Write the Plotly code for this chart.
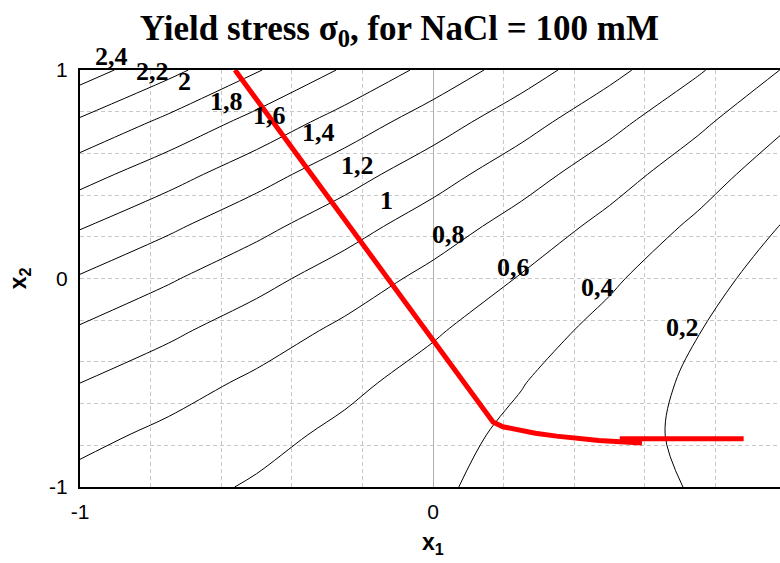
import plotly.graph_objects as go

# ---- data ----
x1_grid = [-1, -0.75, -0.5, -0.25, 0, 0.25, 0.5, 0.75, 1]
x2_grid = [-1, -0.75, -0.5, -0.25, 0, 0.25, 0.5, 0.75, 1]
# yield stress sigma0 on the (x1, x2) grid; one row per x2 value
sigma0 = [
    [0.738, 0.6593, 0.5805, 0.5018, 0.423, 0.3443, 0.2655, 0.1868, 0.108],
    [0.8548, 0.7561, 0.6573, 0.5586, 0.4598, 0.3610, 0.2623, 0.1635, 0.0648],
    [1.0009, 0.8821, 0.7634, 0.6446, 0.5259, 0.4071, 0.2884, 0.1696, 0.0509],
    [1.1763, 1.0376, 0.8988, 0.7601, 0.6213, 0.4826, 0.3438, 0.2051, 0.0663],
    [1.381, 1.2223, 1.0635, 0.9048, 0.746, 0.5873, 0.4285, 0.2698, 0.111],
    [1.615, 1.4363, 1.2575, 1.0788, 0.9, 0.7213, 0.5425, 0.3638, 0.185],
    [1.8784, 1.6797, 1.4809, 1.2822, 1.0834, 0.8847, 0.6859, 0.4872, 0.2884],
    [2.171, 1.9523, 1.7335, 1.5148, 1.296, 1.0773, 0.8585, 0.6398, 0.421],
    [2.493, 2.2543, 2.0155, 1.7768, 1.538, 1.2993, 1.0605, 0.8218, 0.583],
]
levels = [0.2, 0.4, 0.6, 0.8, 1.0, 1.2, 1.4, 1.6, 1.8, 2.0, 2.2, 2.4]
level_labels = ["0,2", "0,4", "0,6", "0,8", "1", "1,2", "1,4", "1,6", "1,8", "2", "2,2", "2,4"]

# red optimum path
path_x1 = [-0.561, 0.17, 0.198, 0.24, 0.29, 0.35, 0.41, 0.47, 0.53, 0.592]
path_x2 = [1.0, -0.688, -0.711, -0.726, -0.742, -0.756, -0.768, -0.777, -0.783, -0.789]
plateau_x1 = [0.529, 0.880]
plateau_x2 = [-0.769, -0.769]

x_ticks = [-1, 0, 1]
y_ticks = [-1, 0, 1]

# ---- layout settings ----
X_RANGE = [-1, 0.983]
Y_RANGE = [-1, 1]
# label centres, in axis units
label_pos = {
    "0,2": (0.708, -0.233), "0,4": (0.465, -0.041), "0,6": (0.227, 0.055),
    "0,8": (0.045, 0.209), "1": (-0.133, 0.376), "1,2": (-0.215, 0.540),
    "1,4": (-0.323, 0.698), "1,6": (-0.462, 0.784), "1,8": (-0.586, 0.851),
    "2": (-0.703, 0.947), "2,2": (-0.796, 0.995), "2,4": (-0.912, 1.067),
}


def to_paper(x, y):
    return ((x - X_RANGE[0]) / (X_RANGE[1] - X_RANGE[0]),
            (y - Y_RANGE[0]) / (Y_RANGE[1] - Y_RANGE[0]))


fig = go.Figure()
fig.add_trace(go.Contour(
    x=x1_grid, y=x2_grid, z=sigma0,
    contours=dict(start=levels[0], end=levels[-1] + 0.01, size=levels[1] - levels[0],
                  coloring="lines", showlabels=False),
    colorscale=[[0, "black"], [1, "black"]],
    showscale=False,
    line=dict(width=1, smoothing=1.0),
    hoverinfo="skip",
))
fig.add_trace(go.Scatter(x=path_x1, y=path_x2, mode="lines",
                         line=dict(color="#ff0000", width=5), hoverinfo="skip"))
fig.add_trace(go.Scatter(x=plateau_x1, y=plateau_x2, mode="lines",
                         line=dict(color="#ff0000", width=5), hoverinfo="skip"))

annotations = []
for lab in level_labels:
    px, py = to_paper(*label_pos[lab])
    annotations.append(dict(x=px, y=py, xref="paper", yref="paper", text="<b>%s</b>" % lab,
                            showarrow=False, xanchor="center", yanchor="middle",
                            font=dict(family="Liberation Serif, Times New Roman, serif",
                                      size=26, color="black")))
annotations.append(dict(x=to_paper(0, 0)[0], y=-0.136, xref="paper", yref="paper",
                        text="<b>x<sub>1</sub></b>",
                        showarrow=False, yanchor="middle",
                        font=dict(family="Liberation Sans, Arial", size=23, color="black")))
annotations.append(dict(x=-0.086, y=0.5, xref="paper", yref="paper", text="<b>x<sub>2</sub></b>",
                        showarrow=False, textangle=-90, xanchor="center", yanchor="middle",
                        font=dict(family="Liberation Sans, Arial", size=23, color="black")))

grid_col = "#c8c8c8"
fig.update_layout(
    width=780, height=563,
    margin=dict(l=80, r=0, t=70, b=76),
    paper_bgcolor="white", plot_bgcolor="white",
    showlegend=False,
    title=dict(text="<b>Yield stress σ<sub>0</sub>, for NaCl = 100 mM</b>",
               font=dict(family="Liberation Serif, Times New Roman, serif", size=35, color="black"),
               x=0.512, xanchor="center", xref="container",
               y=0.951, yanchor="middle", yref="container"),
    annotations=annotations,
    xaxis=dict(range=X_RANGE, tickmode="array", tickvals=x_ticks,
               ticktext=[str(v) for v in x_ticks], ticks="", ticklabelstandoff=5,
               tickfont=dict(family="Liberation Sans, Arial", size=21, color="black"),
               showgrid=True, gridcolor=grid_col, griddash="4px,3px", gridwidth=1,
               zeroline=True, zerolinecolor="#b0b0b0", zerolinewidth=1,
               showline=True, linecolor="black", linewidth=2, mirror=True,
               minor=dict(tick0=-1, dtick=0.2, showgrid=True, gridcolor=grid_col,
                          griddash="4px,3px", gridwidth=1, ticks="")),
    yaxis=dict(range=Y_RANGE, tickmode="array", tickvals=y_ticks,
               ticktext=[str(v) for v in y_ticks], ticks="", ticklabelstandoff=6,
               tickfont=dict(family="Liberation Sans, Arial", size=21, color="black"),
               showgrid=True, gridcolor=grid_col, griddash="4px,3px", gridwidth=1,
               zeroline=False,
               showline=True, linecolor="black", linewidth=2, mirror=False,
               minor=dict(tick0=-1, dtick=0.2, showgrid=True, gridcolor=grid_col,
                          griddash="4px,3px", gridwidth=1, ticks="")),
)

fig.write_html("out.html")
